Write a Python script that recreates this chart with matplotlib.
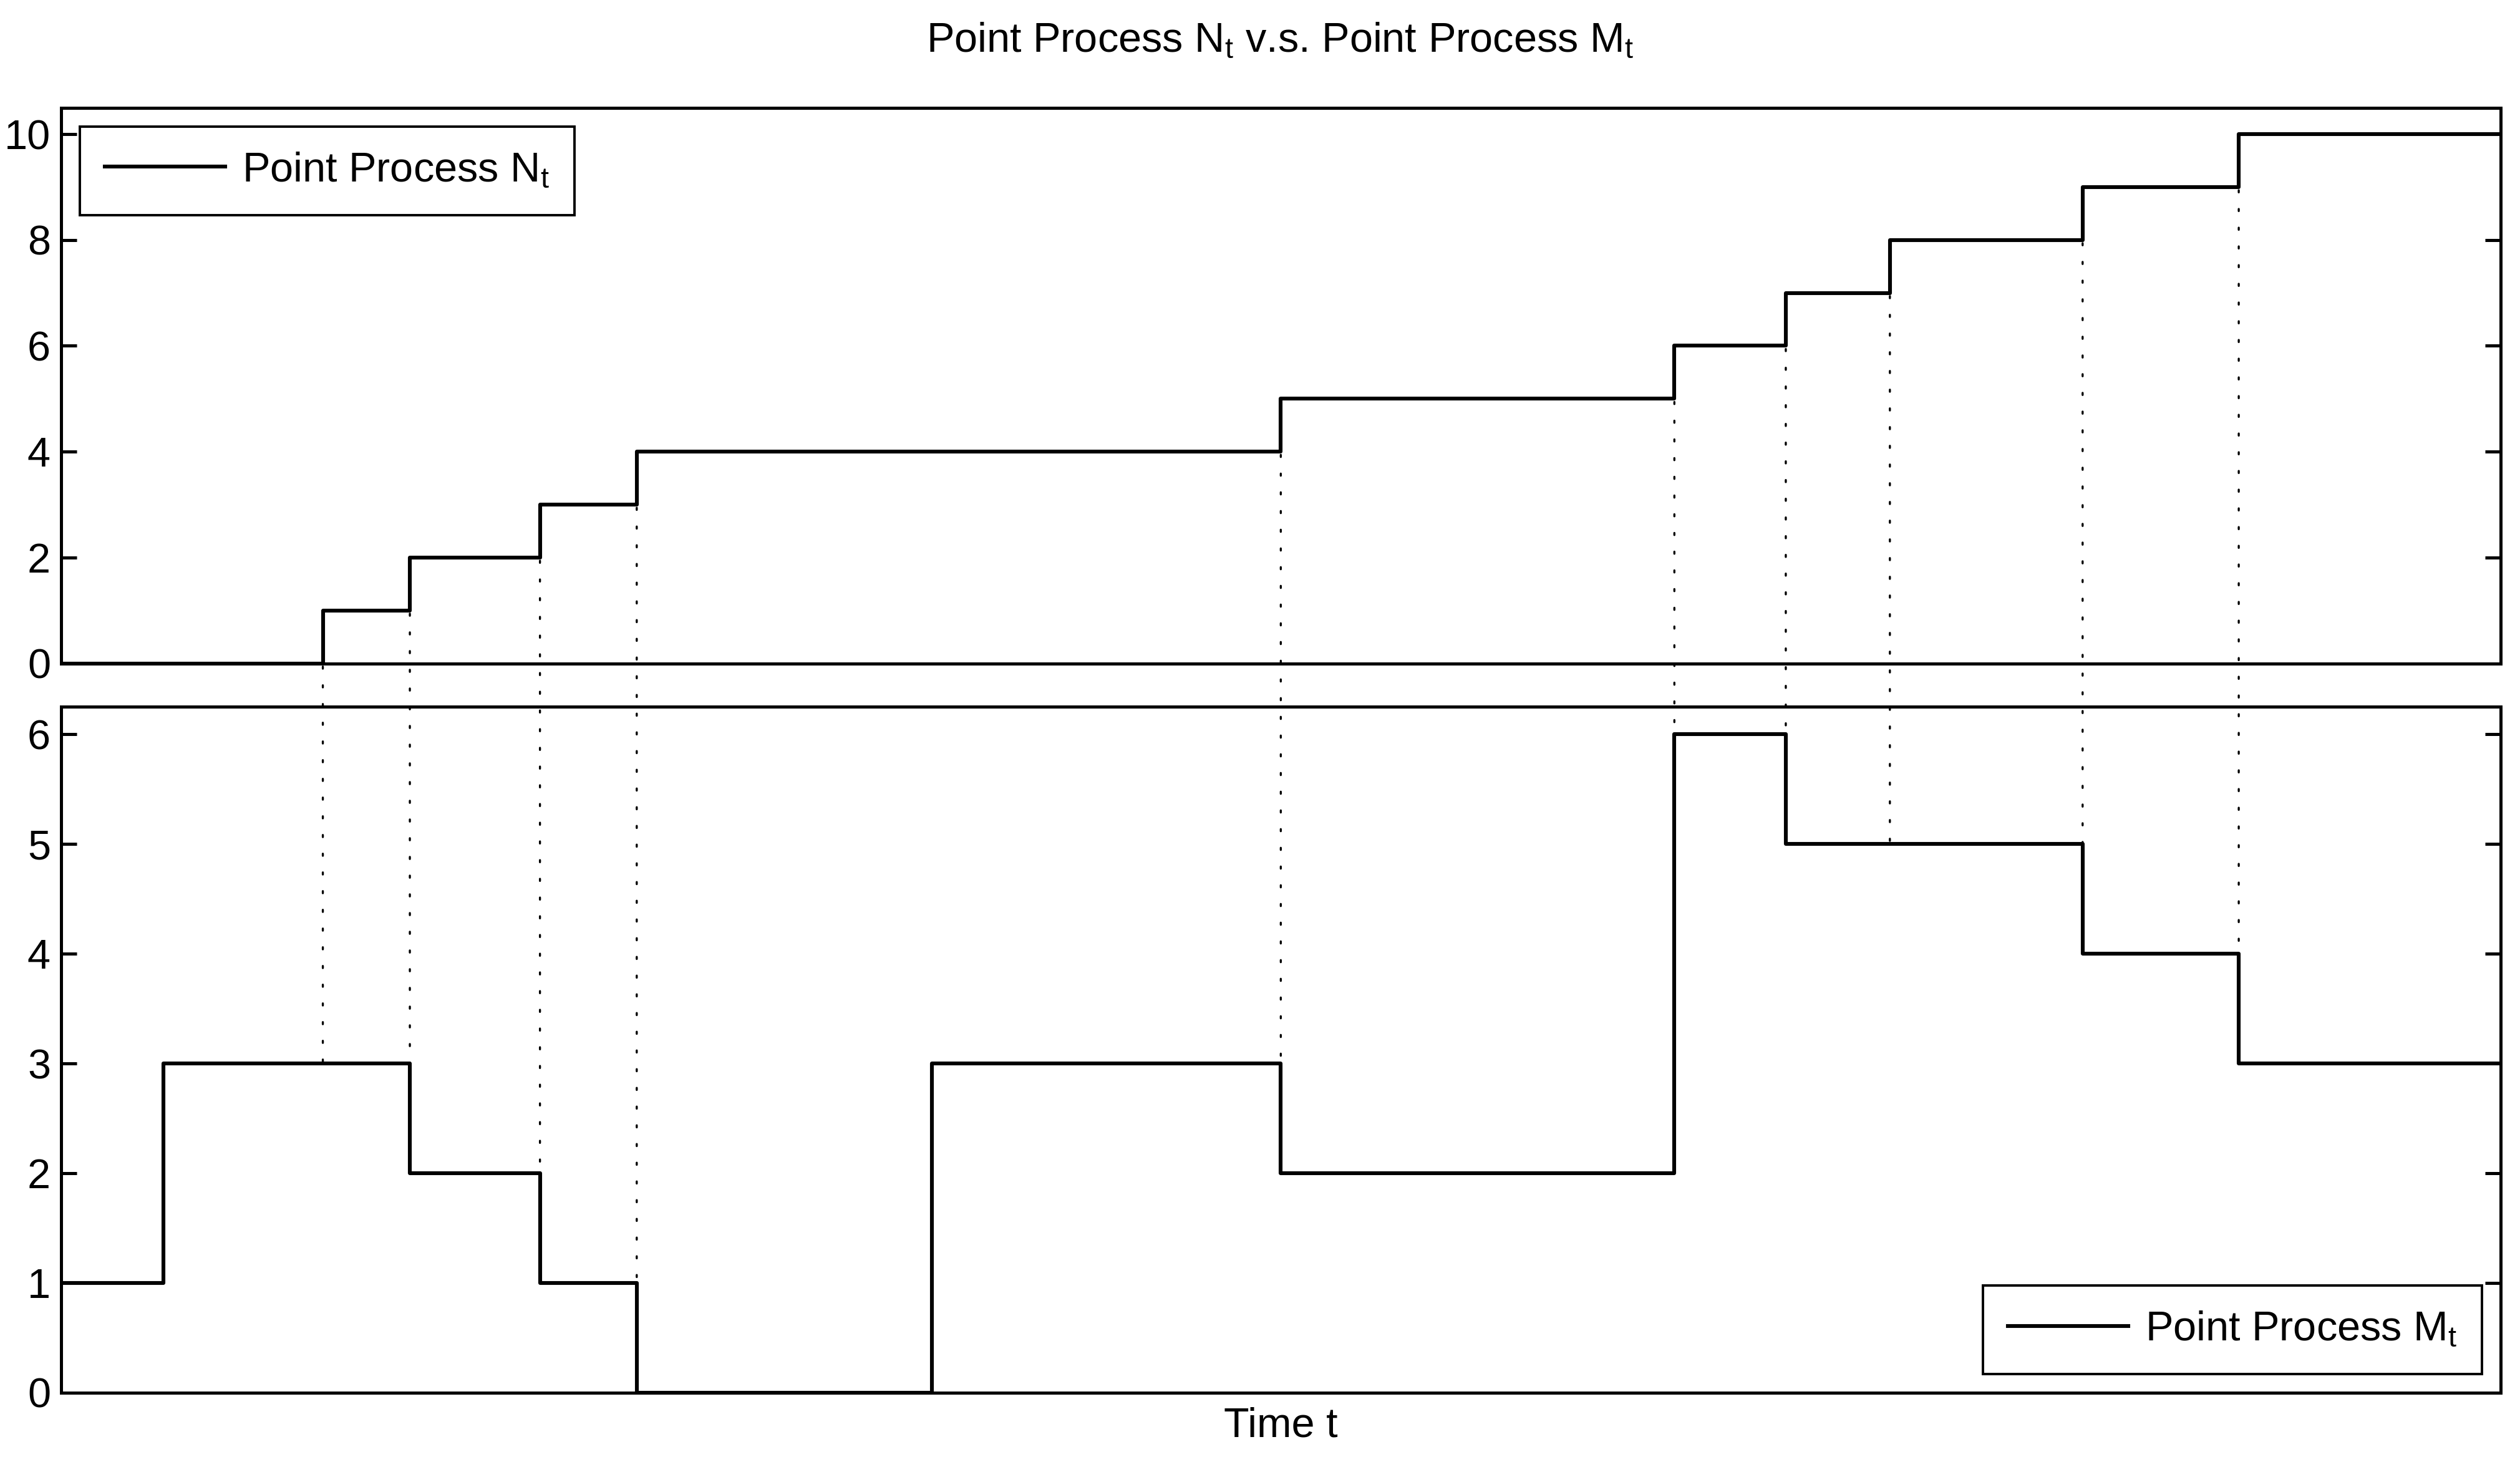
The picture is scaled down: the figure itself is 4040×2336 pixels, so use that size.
import numpy as np
import matplotlib
matplotlib.use("Agg")
import matplotlib.pyplot as plt
from matplotlib.patches import ConnectionPatch

plt.rcParams["font.family"] = ["Liberation Sans", "DejaVu Sans"]
plt.rcParams["mathtext.fontset"] = "custom"
plt.rcParams["mathtext.rm"] = "Liberation Sans"
plt.rcParams["mathtext.it"] = "Liberation Sans"

# event times (arbitrary time units)
t_end = 30.0
n_times = [3.22, 4.29, 5.89, 7.08, 15.00, 19.84, 21.21, 22.49, 24.86, 26.78]
n_values = [0, 1, 2, 3, 4, 5, 6, 7, 8, 9, 10]
m_times = [1.26, 4.29, 5.89, 7.08, 10.71, 15.00, 19.84, 21.21, 24.86, 26.78]
m_values = [1, 3, 2, 1, 0, 3, 2, 6, 5, 4, 3]

n_t = [0.0] + n_times + [t_end]
n_y = n_values + [n_values[-1]]
m_t = [0.0] + m_times + [t_end]
m_y = m_values + [m_values[-1]]


def m_at(t):
    # higher of M just before and just after t
    before = m_values[np.searchsorted(m_times, t, side="left")]
    after = m_values[np.searchsorted(m_times, t, side="right")]
    return max(before, after)


fs = 12
fig = plt.figure(figsize=(10.1, 5.84), dpi=400)
ax1 = fig.add_axes([0.0242, 0.5447, 0.9681, 0.3814])
ax2 = fig.add_axes([0.0242, 0.0441, 0.9681, 0.4708])

ax1.step(n_t, n_y, where="post", color="black", lw=1.1, label=r"Point Process N$_\mathregular{t}$")
ax2.step(m_t, m_y, where="post", color="black", lw=1.1, label=r"Point Process M$_\mathregular{t}$")

for ax, ymax, ticks in [(ax1, 10.5, range(0, 11, 2)), (ax2, 6.25, range(0, 7))]:
    ax.set_xlim(0, t_end)
    ax.set_ylim(0, ymax)
    ax.set_xticks([])
    ax.set_yticks(list(ticks))
    ax.tick_params(axis="y", direction="in", length=4.5, width=0.9, right=True,
                   labelsize=fs, pad=3)
    for s in ax.spines.values():
        s.set_linewidth(0.9)

# dotted connectors from each N event down to the M path
for t, v in zip(n_times, n_values[1:]):
    con = ConnectionPatch(xyA=(t, v), coordsA=ax1.transData,
                          xyB=(t, m_at(t)), coordsB=ax2.transData,
                          color="black", lw=0.6, linestyle=(0, (1, 8)))
    fig.add_artist(con)

for ax, loc in [(ax1, "upper left"), (ax2, "lower right")]:
    leg = ax.legend(loc=loc, fontsize=fs, fancybox=False, framealpha=1,
                    edgecolor="black", handlelength=2.9, borderaxespad=0.45,
                    borderpad=0.6, handletextpad=0.4)
    leg.get_frame().set_linewidth(0.7)

fig.text(0.508, 0.972, r"Point Process N$_\mathregular{t}$ v.s. Point Process M$_\mathregular{t}$",
         ha="center", va="center", fontsize=fs)
ax2.set_xlabel("Time t", fontsize=fs, labelpad=4)

fig.savefig("out.png", dpi=400)
